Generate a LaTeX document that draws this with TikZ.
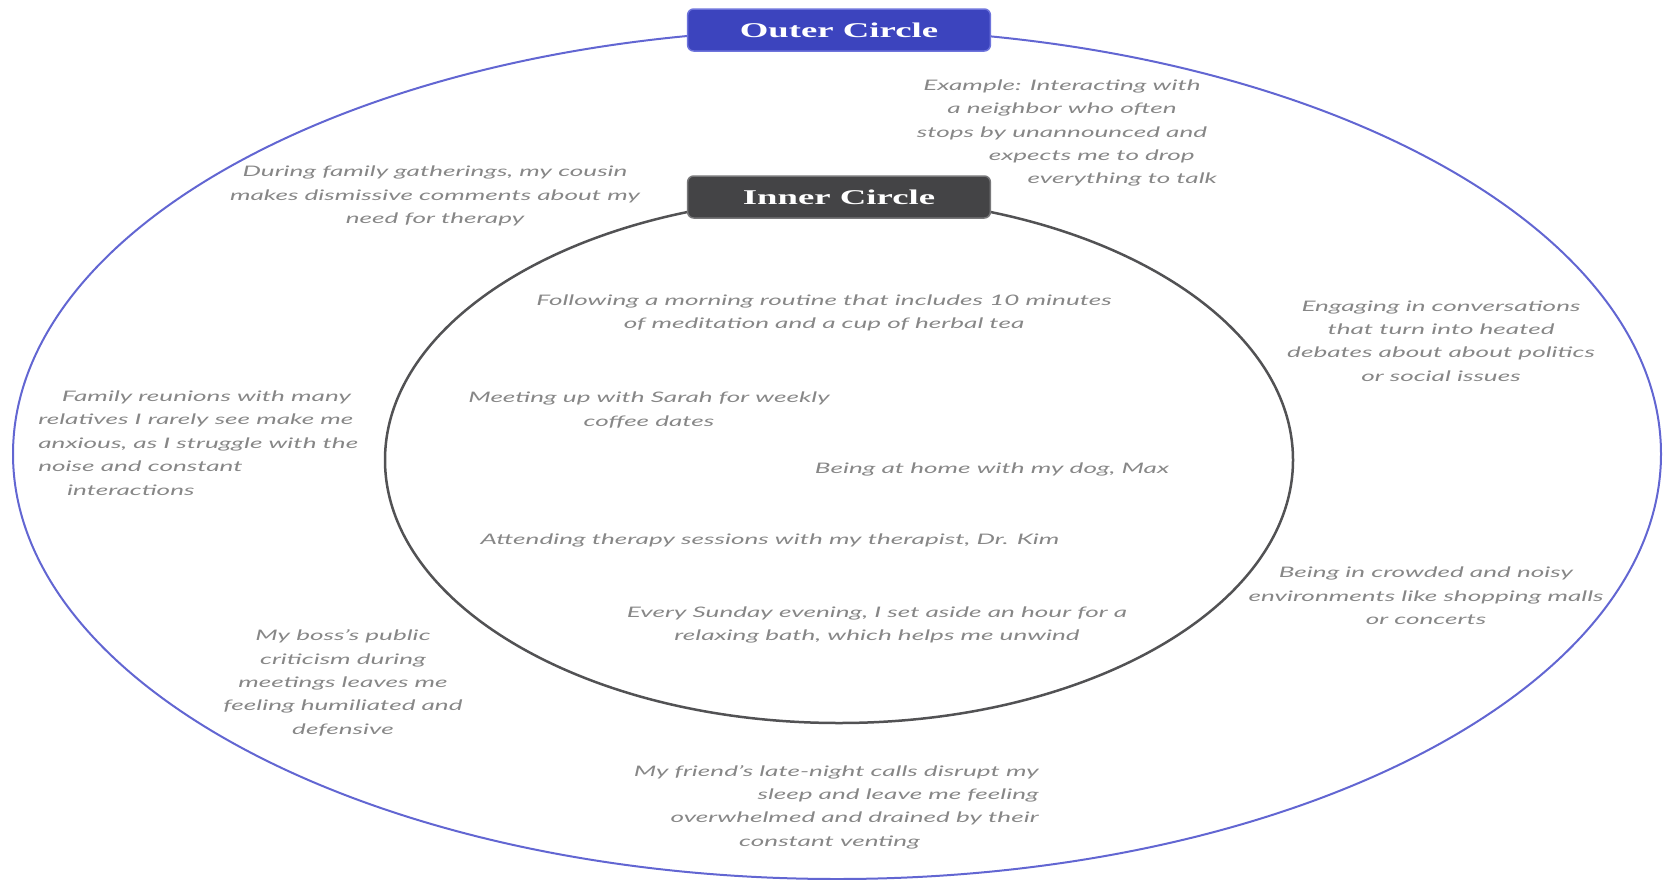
\documentclass[tikz,border=0pt]{standalone}
\usepackage{fontspec}
\setmainfont{Lato}
\newfontfamily\headfont{Liberation Serif}

\definecolor{outerline}{RGB}{98,102,210}
\definecolor{outerbox}{RGB}{60,68,190}
\definecolor{outerrim}{RGB}{110,116,220}
\definecolor{innerline}{RGB}{82,82,84}
\definecolor{innerbox}{RGB}{68,68,70}
\definecolor{innerrim}{RGB}{120,120,122}
\definecolor{notegray}{RGB}{135,135,135}

\begin{document}
\begin{tikzpicture}[x=1pt, y=-1pt,
  note/.style={font=\itshape\fontsize{14.5}{23.4}\selectfont, text=notegray, align=center, inner sep=0pt, xscale=1.8},
  tag/.style={font=\headfont\bfseries\fontsize{21}{24}\selectfont, text=white, rounded corners=6pt, minimum width=173pt, minimum height=42pt, line width=1.5pt, xscale=1.75}]

\useasboundingbox (0,0) rectangle (1665,879);

\draw [outerline, line width=2pt]   (837,454) ellipse [x radius=824, y radius=425];
\draw [innerline, line width=2.5pt] (839,460) ellipse [x radius=454, y radius=263];

\node (outertag) [tag, fill=outerbox, draw=outerrim] at (839, 30) {Outer Circle};
\node (innertag) [tag, fill=innerbox, draw=innerrim] at (839,197) {Inner Circle};

% Outer circle
\node (neighbor) [note] at (1062,133) {Example: Interacting with\\ a neighbor who often\\ stops by unannounced and\\ \hspace*{33pt}expects me to drop\\ \hspace*{67pt}everything to talk};
\node (cousin)   [note] at (435,196)  {During family gatherings, my cousin\\ makes dismissive comments about my\\ need for therapy};
\node (debates)  [note] at (1441,341) {Engaging in conversations\\ that turn into heated\\ debates about about politics\\ or social issues};
\node (reunions) [note, align=left, anchor=west] at (38,443) {\hspace*{13pt}Family reunions with many\\ relatives I rarely see make me\\ anxious, as I struggle with the\\ noise and constant\\ \hspace*{16pt}interactions};
\node (crowds)   [note] at (1426,596) {Being in crowded and noisy\\ environments like shopping malls\\ or concerts};
\node (boss)     [note] at (343,683)  {My boss's public\\ criticism during\\ meetings leaves me\\ feeling humiliated and\\ defensive};
\node (friend)   [note, align=right, anchor=east] at (1039,807) {My friend's late-night calls disrupt my\\ sleep and leave me feeling\\ overwhelmed and drained by their\\ constant venting\hspace*{66pt}};

% Inner circle
\node (morning)  [note] at (824,313) {Following a morning routine that includes 10 minutes\\ of meditation and a cup of herbal tea};
\node (sarah)    [note] at (649,410) {Meeting up with Sarah for weekly\\ coffee dates};
\node (dog)      [note] at (992,469) {Being at home with my dog, Max};
\node (therapy)  [note] at (770,540) {Attending therapy sessions with my therapist, Dr. Kim};
\node (bath)     [note] at (877,625) {Every Sunday evening, I set aside an hour for a\\ relaxing bath, which helps me unwind};

\end{tikzpicture}
\end{document}
